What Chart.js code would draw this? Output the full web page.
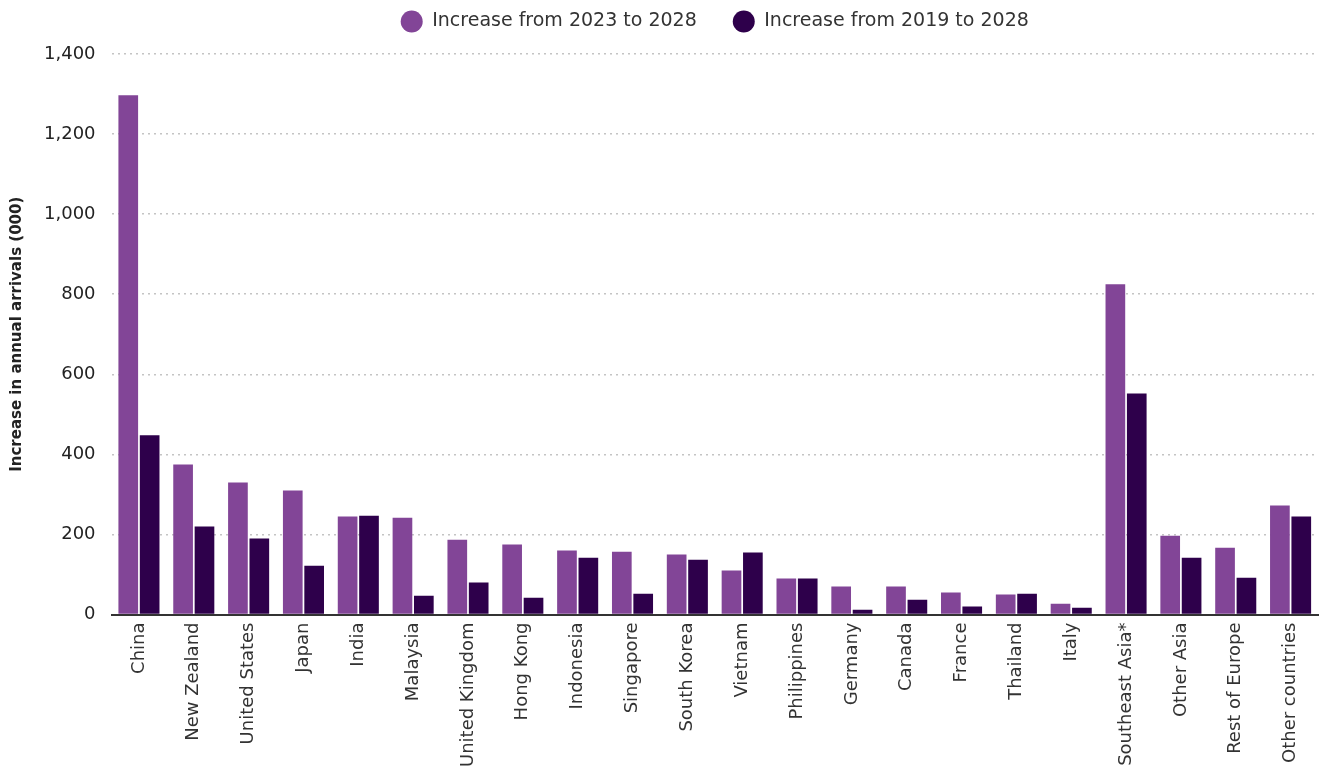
<!DOCTYPE html>
<html>
<head>
<meta charset="utf-8">
<script src="https://cdn.jsdelivr.net/npm/chart.js@4/dist/chart.umd.min.js"></script>
<style>
  html, body { margin: 0; padding: 0; background: #fff; }
  #wrap { width: 1325px; height: 769px; }
</style>
</head>
<body>
<div id="wrap"><canvas id="arrivalsChart" width="1325" height="769"></canvas></div>
<script>
// Categories and values (thousands of arrivals)
const countries = [
    "China", "New Zealand", "United States", "Japan", "India", "Malaysia",
    "United Kingdom", "Hong Kong", "Indonesia", "Singapore", "South Korea",
    "Vietnam", "Philippines", "Germany", "Canada", "France", "Thailand",
    "Italy", "Southeast Asia*", "Other Asia", "Rest of Europe", "Other countries"
];
const increase2023to2028 = [
    1297, 375, 330, 310, 245, 242, 187, 175, 160, 157, 150,
    110, 90, 70, 70, 55, 50, 27, 825, 197, 167, 272
];
const increase2019to2028 = [
    448, 220, 190, 122, 247, 47, 80, 42, 142, 52, 137,
    155, 90, 12, 37, 20, 52, 17, 552, 142, 92, 245
];
const yTicks = [0, 200, 400, 600, 800, 1000, 1200, 1400];

const fontFamily = "'DejaVu Sans', 'Open Sans', sans-serif";

// Add some room between the legend and the plot area,
// and center the legend over the plot area instead of the whole canvas
const legendTweaks = {
    id: "legendTweaks",
    beforeInit(chart) {
        const fit = chart.legend.fit;
        chart.legend.fit = function () {
            fit.bind(chart.legend)();
            this.height += 13;
        };
    },
    afterLayout(chart) {
        chart.legend.left = chart.chartArea.left;
        chart.legend.right = chart.chartArea.right;
    }
};

document.addEventListener("DOMContentLoaded", function () {
    const ctx = document.getElementById("arrivalsChart");

    new Chart(ctx, {
        type: "bar",
        data: {
            labels: countries,
            datasets: [{
                label: "Increase from 2023 to 2028",
                data: increase2023to2028,
                backgroundColor: "#824597",
                categoryPercentage: 0.78,
                barPercentage: 0.92,
            }, {
                label: "Increase from 2019 to 2028",
                data: increase2019to2028,
                backgroundColor: "#2e004b",
                categoryPercentage: 0.78,
                barPercentage: 0.92,
            }],
        },
        plugins: [legendTweaks],
        options: {
            responsive: false,
            animation: false,
            layout: { padding: { top: -24, right: 7, left: 4, bottom: 2 } },
            plugins: {
                tooltip: { enabled: false },
                legend: {
                    position: "top",
                    labels: {
                        usePointStyle: true,
                        pointStyle: "circle",
                        pointStyleWidth: 22,
                        boxHeight: 15.5,
                        padding: 36,
                        color: "#333",
                        font: { family: fontFamily, size: 19 },
                    },
                },
            },
            scales: {
                x: {
                    grid: { display: false },
                    border: { display: true, color: "#333", width: 2 },
                    ticks: {
                        color: "#333",
                        font: { family: fontFamily, size: 18 },
                        maxRotation: 90,
                        minRotation: 90,
                        autoSkip: false,
                        padding: 0,
                    },
                },
                y: {
                    min: 0,
                    max: 1400,
                    afterBuildTicks: axis => {
                        axis.ticks = yTicks.map(v => ({ value: v }));
                    },
                    border: { display: false, dash: [2, 4] },
                    grid: {
                        drawTicks: false,
                        color: c => (c.tick && c.tick.value === 0) ? "rgba(0,0,0,0)" : "#c4c4c4",
                        lineWidth: 1.5,
                    },
                    ticks: {
                        color: "#222",
                        font: { family: fontFamily, size: 18 },
                        padding: 16,
                        callback: v => v.toLocaleString("en-US"),
                    },
                    title: {
                        display: true,
                        text: "Increase in annual arrivals (000)",
                        color: "#222",
                        font: { family: fontFamily, size: 15, weight: "bold" },
                        padding: { bottom: 2 },
                    },
                },
            },
        },
    });
});
</script>
</body>
</html>
